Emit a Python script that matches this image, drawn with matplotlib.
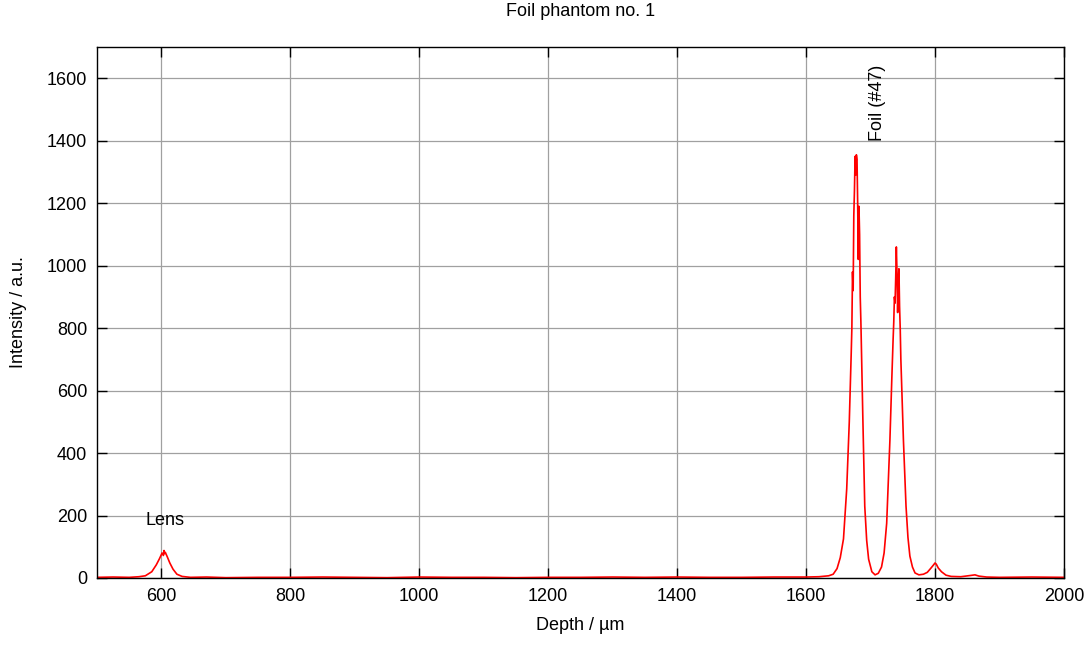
import matplotlib
matplotlib.use("Agg")
import matplotlib.pyplot as plt

plt.rcParams['font.family'] = ['Liberation Sans', 'DejaVu Sans']

# depth scan (µm) and intensity (a.u.)
depth = [500, 525, 550, 565, 575, 585, 592, 597, 601, 603, 604, 605, 606, 609, 613, 618, 624, 632, 645,
         670, 700, 750, 800, 850, 900, 950, 1000, 1050, 1100, 1150, 1200, 1250, 1300, 1350,
         1400, 1450, 1500, 1550, 1600, 1620, 1635, 1642, 1648, 1653, 1658, 1663, 1667, 1670, 1671,
         1672, 1673, 1674, 1675, 1676, 1677, 1678, 1679, 1680, 1681, 1682, 1683, 1684, 1685, 1688, 1691,
         1694, 1697, 1702, 1707, 1712, 1717, 1721, 1725, 1730, 1733, 1735, 1736, 1737, 1738, 1739, 1740,
         1741, 1742, 1743, 1744, 1745, 1746, 1747, 1751, 1755, 1758, 1761, 1765, 1769, 1775, 1782,
         1788, 1793, 1797, 1800, 1802, 1805, 1810, 1817, 1825, 1840, 1855, 1862, 1868, 1880,
         1900, 1950, 2000]
intensity = [2, 3, 2, 4, 7, 20, 42, 62, 80, 72, 88, 78, 82, 68, 48, 28, 12, 5, 2,
             3, 1, 2, 2, 3, 2, 1, 3, 2, 2, 1, 2, 2, 3, 2,
             3, 2, 2, 3, 3, 4, 7, 12, 30, 65, 125, 285, 500, 720, 800,
             980, 920, 1160, 1240, 1350, 1290, 1355, 1340, 1200, 1020, 1190, 1100, 900, 820, 515, 230,
             120, 60, 20, 10, 15, 35, 80, 175, 440, 640, 765, 820, 900, 880, 960, 1060,
             980, 850, 940, 990, 870, 800, 700, 440, 230, 130, 70, 35, 16, 10, 12,
             18, 30, 40, 48, 44, 32, 20, 9, 5, 4, 8, 10, 6, 3,
             2, 3, 2]

fig = plt.figure(figsize=(10.86, 6.46), dpi=100)
ax = fig.add_axes([0.0893, 0.1053, 0.8904, 0.8219])

ax.plot(depth, intensity, color='red', linewidth=1.2)

ax.set_xlim(500, 2000)
ax.set_ylim(0, 1700)
ax.set_xticks(range(600, 2001, 200))
ax.set_yticks(range(0, 1601, 200))
ax.grid(True, color='#a0a0a0', linewidth=0.9)
ax.set_axisbelow(True)
ax.tick_params(direction='in', length=7, width=1, top=True, right=True,
               labelsize=13, pad=7)
for s in ax.spines.values():
    s.set_linewidth(1.0)
    s.set_color('black')

ax.set_title('Foil phantom no. 1', fontsize=13, pad=22)
ax.set_xlabel('Depth / µm', fontsize=13, labelpad=9)
ax.set_ylabel('Intensity / a.u.', fontsize=13, labelpad=14)

ax.text(605, 158, 'Lens', fontsize=13, ha='center', va='bottom')
ax.text(1710, 1400, 'Foil (#47)', fontsize=13, rotation=90, ha='center', va='bottom')

fig.savefig('out.png', dpi=100)
